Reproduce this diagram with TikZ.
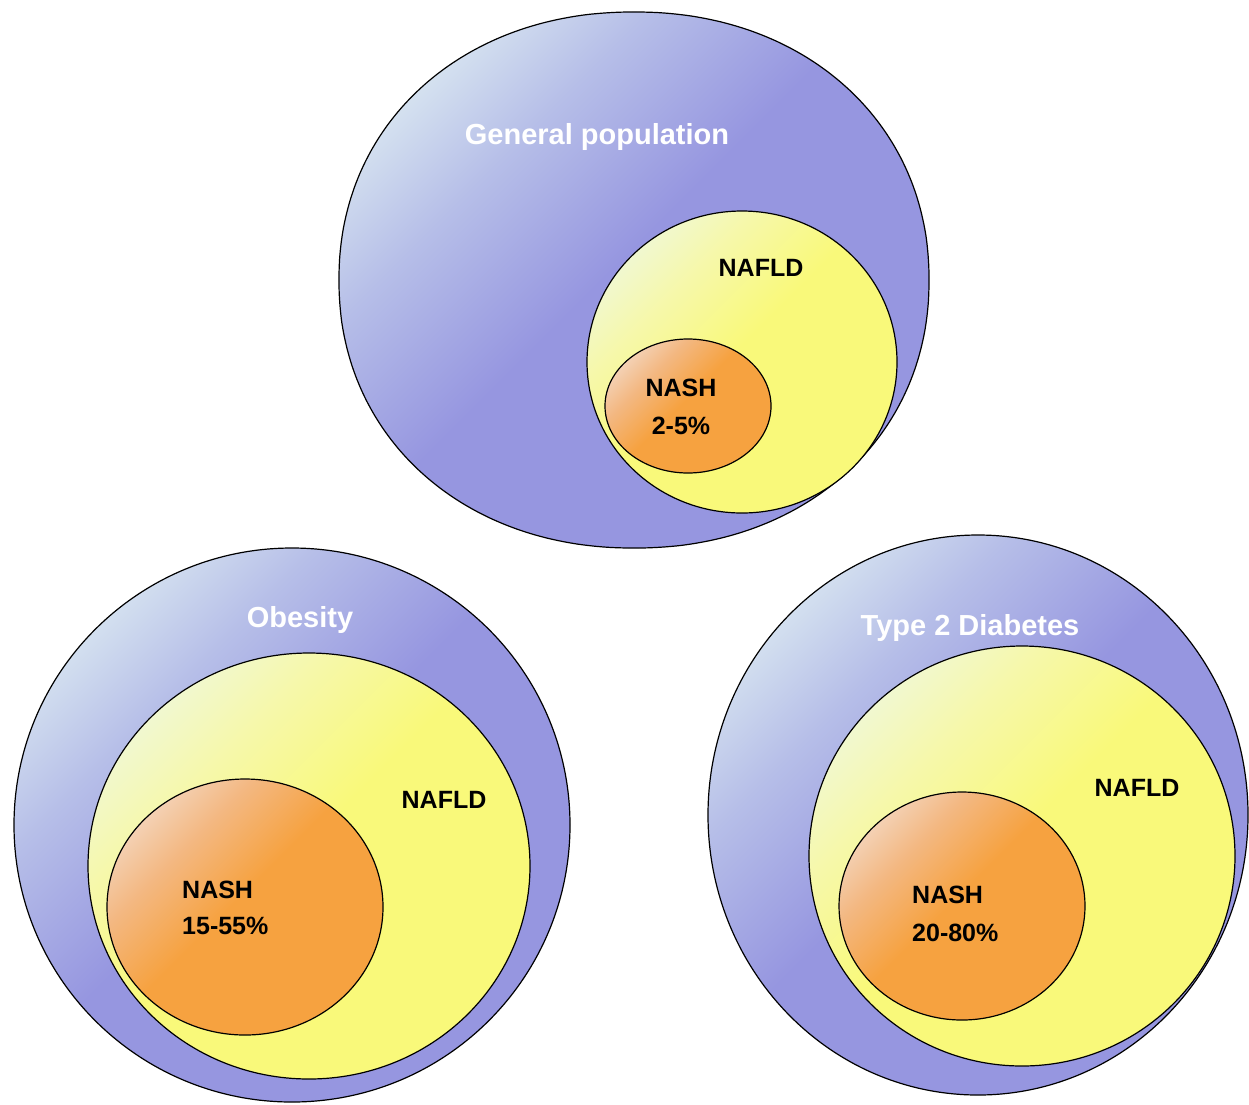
\documentclass[tikz,border=0pt]{standalone}
\usepackage{fontspec}
\setmainfont{Liberation Sans}
\definecolor{blueL}{RGB}{226,241,243}
\definecolor{blueM}{RGB}{182,190,232}
\definecolor{blueD}{RGB}{150,150,224}
\definecolor{yelL}{RGB}{238,248,228}
\definecolor{yelM}{RGB}{246,248,170}
\definecolor{yelD}{RGB}{249,249,122}
\definecolor{orL}{RGB}{244,222,206}
\definecolor{orM}{RGB}{243,184,130}
\definecolor{orD}{RGB}{246,162,64}
\pgfdeclarehorizontalshading{bluesh}{100bp}{color(0bp)=(blueL); color(20bp)=(blueL); color(34bp)=(blueM); color(48bp)=(blueD); color(100bp)=(blueD)}
\pgfdeclarehorizontalshading{yelsh}{100bp}{color(0bp)=(yelL); color(20bp)=(yelL); color(34bp)=(yelM); color(48bp)=(yelD); color(100bp)=(yelD)}
\pgfdeclarehorizontalshading{orsh}{100bp}{color(0bp)=(orL); color(20bp)=(orL); color(34bp)=(orM); color(48bp)=(orD); color(100bp)=(orD)}
\tikzset{
  outerc/.style={draw=black, line width=1.2pt, shading=bluesh, shading angle=-45},
  naflc/.style={draw=black, line width=1.2pt, shading=yelsh, shading angle=-45},
  nashc/.style={draw=black, line width=1.2pt, shading=orsh, shading angle=-45},
  whitelbl/.style={text=white, font=\bfseries\fontsize{29}{32}\selectfont, inner sep=0pt},
  blacklbl/.style={text=black, font=\bfseries\fontsize{25}{28}\selectfont, inner sep=0pt},
}
\begin{document}
\begin{tikzpicture}[x=1pt,y=-1pt]
\useasboundingbox (0,0) rectangle (1249,1104);
% top group
\path[outerc] plot[domain=1:358, samples=120, smooth cycle, variable=\t]
  ({634+295*sign(cos(\t))*abs(cos(\t))^(0.95)}, {280+268*sign(sin(\t))*abs(sin(\t))^(0.95)});
\path[naflc] (742,362) ellipse [x radius=155, y radius=151];
\path[nashc] (688,406) ellipse [x radius=83, y radius=67];
\node[whitelbl] (gp) at (597,137) {General population};
\node[blacklbl] (n1) at (761,268) {NAFLD};
\node[blacklbl] (s1) at (681,388) {NASH};
\node[blacklbl] (p1) at (681,426) {2-5\%};
% bottom-left group
\path[outerc] (292,825) ellipse [x radius=278, y radius=277];
\path[naflc] (309,866) ellipse [x radius=221, y radius=213];
\path[nashc] (245,907) ellipse [x radius=138, y radius=128];
\node[whitelbl] (ob) at (300,620) {Obesity};
\node[blacklbl] (n2) at (444,800) {NAFLD};
\node[blacklbl, anchor=west] (s2) at (182,890) {NASH};
\node[blacklbl, anchor=west] (p2) at (182,926) {15-55\%};
% bottom-right group
\path[outerc] (978,815) ellipse [x radius=270, y radius=280];
\path[naflc] (1022,856) ellipse [x radius=213, y radius=210];
\path[nashc] (962,906) ellipse [x radius=123, y radius=114];
\node[whitelbl] (t2) at (970,628) {Type 2 Diabetes};
\node[blacklbl] (n3) at (1137,788) {NAFLD};
\node[blacklbl, anchor=west] (s3) at (912,895) {NASH};
\node[blacklbl, anchor=west] (p3) at (912,933) {20-80\%};
\end{tikzpicture}
\end{document}
